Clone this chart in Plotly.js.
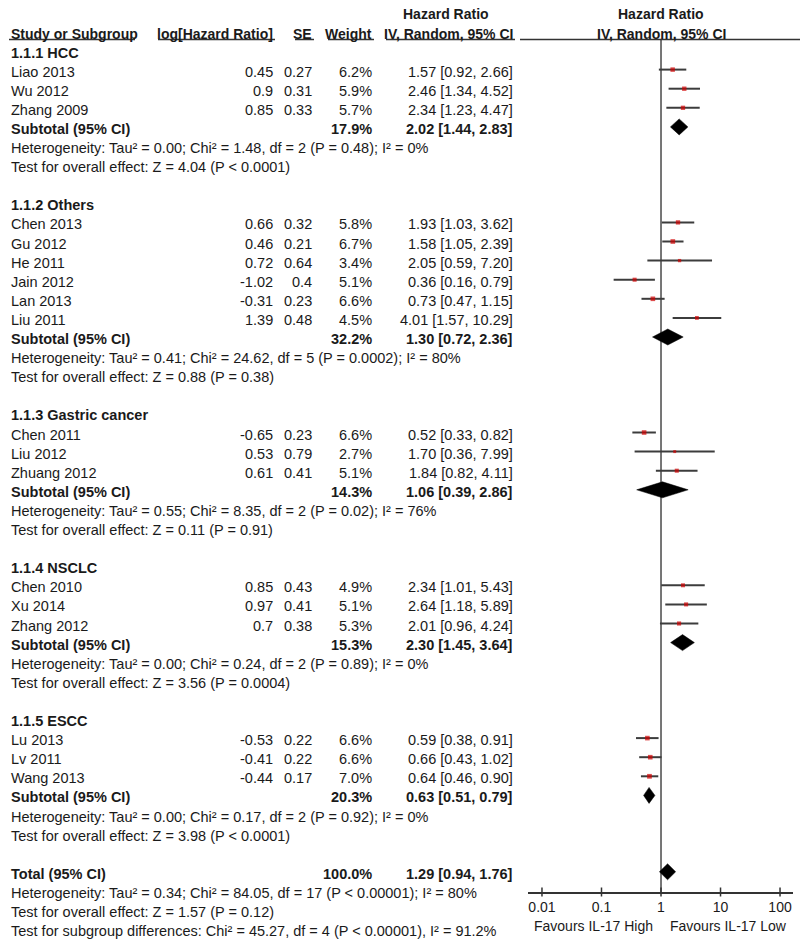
<!DOCTYPE html>
<html>
<head>
<meta charset="utf-8">
<script src="https://cdn.plot.ly/plotly-3.0.1.min.js"></script>
<style>html,body{margin:0;padding:0;background:#fff;}</style>
</head>
<body>
<div id="chart" style="width:800px;height:949px;"></div>
<script>
// ---------------- DATA ----------------
const groupNames = ['1.1.1 HCC', '1.1.2 Others', '1.1.3 Gastric cancer', '1.1.4 NSCLC', '1.1.5 ESCC'];
const studyNames = ['Liao 2013', 'Wu 2012', 'Zhang 2009',
  'Chen 2013', 'Gu 2012', 'He 2011', 'Jain 2012', 'Lan 2013', 'Liu 2011',
  'Chen 2011', 'Liu 2012', 'Zhuang 2012',
  'Chen 2010', 'Xu 2014', 'Zhang 2012',
  'Lu 2013', 'Lv 2011', 'Wang 2013'];
const studyGroup = [0,0,0, 1,1,1,1,1,1, 2,2,2, 3,3,3, 4,4,4];
const logHR = [0.45, 0.9, 0.85, 0.66, 0.46, 0.72, -1.02, -0.31, 1.39, -0.65, 0.53, 0.61, 0.85, 0.97, 0.7, -0.53, -0.41, -0.44];
const seVals = [0.27, 0.31, 0.33, 0.32, 0.21, 0.64, 0.4, 0.23, 0.48, 0.23, 0.79, 0.41, 0.43, 0.41, 0.38, 0.22, 0.22, 0.17];
const weights = [6.2, 5.9, 5.7, 5.8, 6.7, 3.4, 5.1, 6.6, 4.5, 6.6, 2.7, 5.1, 4.9, 5.1, 5.3, 6.6, 6.6, 7.0];
const hrVals = [1.57, 2.46, 2.34, 1.93, 1.58, 2.05, 0.36, 0.73, 4.01, 0.52, 1.70, 1.84, 2.34, 2.64, 2.01, 0.59, 0.66, 0.64];
const ciLow  = [0.92, 1.34, 1.23, 1.03, 1.05, 0.59, 0.16, 0.47, 1.57, 0.33, 0.36, 0.82, 1.01, 1.18, 0.96, 0.38, 0.43, 0.46];
const ciHigh = [2.66, 4.52, 4.47, 3.62, 2.39, 7.20, 0.79, 1.15, 10.29, 0.82, 7.99, 4.11, 5.43, 5.89, 4.24, 0.91, 1.02, 0.90];

const subWeight = [17.9, 32.2, 14.3, 15.3, 20.3];
const subHR   = [2.02, 1.30, 1.06, 2.30, 0.63];
const subLow  = [1.44, 0.72, 0.39, 1.45, 0.51];
const subHigh = [2.83, 2.36, 2.86, 3.64, 0.79];
const subTau2 = ['0.00', '0.41', '0.55', '0.00', '0.00'];
const subChi2 = ['1.48', '24.62', '8.35', '0.24', '0.17'];
const subDf   = [2, 5, 2, 2, 2];
const subP    = ['P = 0.48', 'P = 0.0002', 'P = 0.02', 'P = 0.89', 'P = 0.92'];
const subI2   = ['0%', '80%', '76%', '0%', '0%'];
const subZ    = ['4.04', '0.88', '0.11', '3.56', '3.98'];
const subPz   = ['P < 0.0001', 'P = 0.38', 'P = 0.91', 'P = 0.0004', 'P < 0.0001'];

const totalWeight = 100.0;
const totalHR = 1.29, totalLow = 0.94, totalHigh = 1.76;
const totalHet = 'Heterogeneity: Tau² = 0.34; Chi² = 84.05, df = 17 (P < 0.00001); I² = 80%';
const totalTest = 'Test for overall effect: Z = 1.57 (P = 0.12)';
const subgroupTest = 'Test for subgroup differences: Chi² = 45.27, df = 4 (P < 0.00001), I² = 91.2%';

const tickVals = [0.01, 0.1, 1, 10, 100];
const tickLabels = ['0.01', '0.1', '1', '10', '100'];
const favoursLeft = 'Favours IL-17 High';
const favoursRight = 'Favours IL-17 Low';

// ---------------- LAYOUT HELPERS ----------------
const W = 800, H = 949;
const ROW0 = 50.5, ROWH = 19.1, TXT = 2;
const rowY = n => ROW0 + ROWH * n;
const px = x => x / W;
const FONT = 'Arial, "Liberation Sans", sans-serif';
const COL = '#1a1a1a';
const FS = 14.5;

const annotations = [];
function txt(text, x, y, anchor, bold, size) {
  annotations.push({
    text: bold ? '<b>' + text + '</b>' : text,
    x: px(x), xref: 'paper', y: y + TXT, yref: 'y',
    xanchor: anchor, yanchor: 'middle', showarrow: false,
    font: {family: FONT, size: size || FS, color: COL}
  });
}
const fmt2 = v => v.toFixed(2);
const ciStr = (h, l, u) => fmt2(h) + ' [' + fmt2(l) + ', ' + fmt2(u) + ']';

// Column positions
const X_STUDY = 9, X_LOG = 275, X_SE = 314, X_W = 374, X_HR = 515;

// Headers
txt('Hazard Ratio', 446, 12, 'center', true, 14);
txt('Hazard Ratio', 661, 12, 'center', true, 14);
txt('Study or Subgroup', X_STUDY, 31.5, 'left', true, 14);
txt('log[Hazard Ratio]', X_LOG, 31.5, 'right', true, 14);
txt('SE', X_SE, 31.5, 'right', true, 14);
txt('Weight', X_W, 31.5, 'right', true, 14);
txt('IV, Random, 95% CI', X_HR, 31.5, 'right', true, 14);
txt('IV, Random, 95% CI', 661, 31.5, 'center', true, 14);

const AXIS_Y = 892;
const shapes = [];
const ULINE_Y = 39.5;
[[9,135],[158,275],[295,314],[328,374],[386,515],[520,800]].forEach(seg => {
  shapes.push({type:'line', xref:'paper', yref:'y', x0:px(seg[0]), x1:px(seg[1]), y0:ULINE_Y, y1:ULINE_Y,
    line:{color:'#333', width:1.5}});
});
// line of no effect
shapes.push({type:'line', xref:'x', yref:'y', x0:1, x1:1, y0:ULINE_Y, y1:AXIS_Y,
  line:{color:'#555', width:1.6}, layer:'below'});
// tick marks crossing the axis line
tickVals.forEach(v => {
  shapes.push({type:'line', xref:'x', yref:'y', x0:v, x1:v, y0:AXIS_Y - 4.5, y1:AXIS_Y + 4.5,
    line:{color:'#333', width:1.5}});
});

// Rows
const studyRow = [], subRow = [];
let r = 0;
for (let g = 0; g < groupNames.length; g++) {
  txt(groupNames[g], X_STUDY, rowY(r), 'left', true); r++;
  for (let i = 0; i < studyNames.length; i++) {
    if (studyGroup[i] !== g) continue;
    studyRow[i] = r;
    txt(studyNames[i], X_STUDY, rowY(r), 'left');
    txt(String(logHR[i]), X_LOG, rowY(r), 'right');
    txt(String(seVals[i]), X_SE, rowY(r), 'right');
    txt(weights[i].toFixed(1) + '%', X_W, rowY(r), 'right');
    txt(ciStr(hrVals[i], ciLow[i], ciHigh[i]), X_HR, rowY(r), 'right');
    r++;
  }
  subRow[g] = r;
  txt('Subtotal (95% CI)', X_STUDY, rowY(r), 'left', true);
  txt(subWeight[g].toFixed(1) + '%', X_W, rowY(r), 'right', true);
  txt(ciStr(subHR[g], subLow[g], subHigh[g]), X_HR, rowY(r), 'right', true);
  r++;
  txt('Heterogeneity: Tau² = ' + subTau2[g] + '; Chi² = ' + subChi2[g] + ', df = ' + subDf[g] +
      ' (' + subP[g] + '); I² = ' + subI2[g], X_STUDY, rowY(r), 'left'); r++;
  txt('Test for overall effect: Z = ' + subZ[g] + ' (' + subPz[g] + ')', X_STUDY, rowY(r), 'left'); r++;
  r++; // blank
}
const totalRow = r;
txt('Total (95% CI)', X_STUDY, rowY(r), 'left', true);
txt(totalWeight.toFixed(1) + '%', X_W, rowY(r), 'right', true);
txt(ciStr(totalHR, totalLow, totalHigh), X_HR, rowY(r), 'right', true);
r++;
txt(totalHet, X_STUDY, rowY(r), 'left'); r++;
txt(totalTest, X_STUDY, rowY(r), 'left'); r++;
txt(subgroupTest, X_STUDY, rowY(r), 'left');

// Favours labels
annotations.push({text: favoursLeft, x: px(655), xref:'paper', y: 925.5, yref:'y', xanchor:'right', yanchor:'middle',
  showarrow:false, font:{family:FONT, size:14, color:COL}});
annotations.push({text: favoursRight, x: px(668), xref:'paper', y: 925.5, yref:'y', xanchor:'left', yanchor:'middle',
  showarrow:false, font:{family:FONT, size:14, color:COL}});

// ---------------- TRACES ----------------
const traces = [];
// CI lines
const ciX = [], ciY = [];
for (let i = 0; i < studyNames.length; i++) {
  ciX.push(ciLow[i], ciHigh[i], null);
  ciY.push(rowY(studyRow[i]), rowY(studyRow[i]), null);
}
traces.push({type:'scatter', mode:'lines', x:ciX, y:ciY, line:{color:'#3c3c3c', width:2},
  hoverinfo:'skip', showlegend:false});
// Study markers
traces.push({type:'scatter', mode:'markers', x:hrVals, y:studyRow.map(rowY),
  marker:{symbol:'square', color:'#d00000', size:weights.map(w => 1.8 * Math.sqrt(w)), line:{width:0}},
  hoverinfo:'skip', showlegend:false});
// Diamonds
const HALF = 8;
function diamond(h, l, u, y) {
  traces.push({type:'scatter', mode:'lines', x:[l, h, u, h, l], y:[y, y - HALF, y, y + HALF, y],
    fill:'toself', fillcolor:'#000', line:{color:'#000', width:0.5}, hoverinfo:'skip', showlegend:false});
}
for (let g = 0; g < groupNames.length; g++) diamond(subHR[g], subLow[g], subHigh[g], rowY(subRow[g]));
diamond(totalHR, totalLow, totalHigh, rowY(totalRow));

// ---------------- LAYOUT ----------------
const dom = [528 / W, 793 / W];
const rng = [-2.235, 2.218];
const layout = {
  width: W, height: H,
  margin: {l:0, r:0, t:0, b:0, pad:0},
  paper_bgcolor:'#fff', plot_bgcolor:'rgba(0,0,0,0)',
  showlegend:false,
  xaxis: {type:'log', domain:dom, range:rng, anchor:'free', position: 1 - AXIS_Y / H,
    tickvals:tickVals, ticktext:tickLabels, ticks:'outside', ticklen:2, tickcolor:'rgba(0,0,0,0)',
    showline:true, linecolor:'#333', linewidth:1.5, showgrid:false, zeroline:false,
    tickfont:{family:FONT, size:14, color:COL}, fixedrange:true},
  yaxis: {domain:[0,1], range:[H, 0], visible:false, showgrid:false, zeroline:false, fixedrange:true},
  shapes: shapes,
  annotations: annotations
};
Plotly.newPlot('chart', traces, layout, {staticPlot:true, displayModeBar:false});
</script>
</body>
</html>
